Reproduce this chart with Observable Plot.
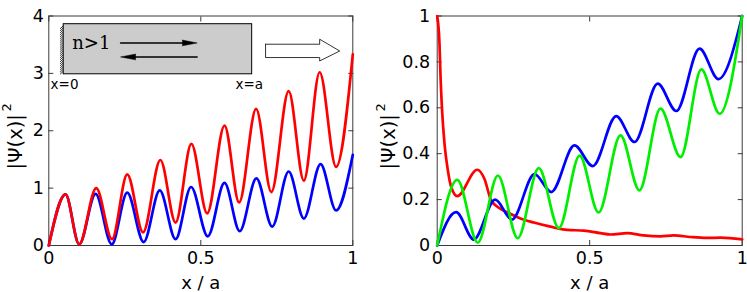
<!DOCTYPE html>
<html><head><meta charset="utf-8">
<script src="https://cdn.jsdelivr.net/npm/d3@7"></script>
<script src="https://cdn.jsdelivr.net/npm/@observablehq/plot@0.6"></script>
<style>
body{margin:0;background:#fff;}
#wrap{position:relative;width:747px;height:292px;overflow:hidden;background:#fff;}
#left,#right{position:absolute;top:0;}
#left{left:0;} #right{left:374px;}
#wrap [aria-label$="tick label"], #wrap [aria-label$="tick label"] text{font-size:17.5px;font-family:"DejaVu Sans";fill:#000;}
</style></head><body>
<div id="wrap"><div id="left"></div><div id="right"></div></div>
<script>
// ---------- data ----------
const xTicks = [0, 0.5, 1];
const leftYTicks = [0, 1, 2, 3, 4];
const rightYTicks = [0, 0.2, 0.4, 0.6, 0.8, 1];

const leftRedX = [0, 0.055, 0.10, 0.156, 0.208, 0.258, 0.31, 0.367, 0.417, 0.469, 0.521, 0.578, 0.626, 0.682, 0.732, 0.789, 0.839, 0.891, 0.945, 1.0];
const leftRedY = [0, 0.89, 0.02, 1.0, 0.11, 1.24, 0.23, 1.49, 0.40, 1.77, 0.56, 2.09, 0.75, 2.38, 0.93, 2.69, 1.13, 3.02, 1.37, 3.33];

const leftBlueX = [0, 0.055, 0.10, 0.154, 0.207, 0.258, 0.312, 0.365, 0.417, 0.468, 0.523, 0.578, 0.628, 0.683, 0.735, 0.789, 0.839, 0.894, 0.945, 1.0];
const leftBlueY = [0, 0.89, 0.02, 0.90, 0.02, 0.92, 0.06, 0.96, 0.11, 1.02, 0.16, 1.09, 0.25, 1.17, 0.33, 1.29, 0.47, 1.42, 0.61, 1.58];

const rightRedX = [0, 0.0075, 0.011, 0.016, 0.024, 0.035, 0.046, 0.066, 0.131, 0.155, 0.177, 0.2075, 0.24, 0.273, 0.317, 0.371, 0.426, 0.481, 0.535, 0.568, 0.623, 0.677, 0.732, 0.776, 0.83, 0.885, 0.929, 1.0];
const rightRedY = [1.0, 0.88, 0.734, 0.589, 0.443, 0.327, 0.255, 0.215, 0.33, 0.29, 0.196, 0.16, 0.138, 0.118, 0.1, 0.082, 0.068, 0.065, 0.054, 0.048, 0.054, 0.044, 0.04, 0.044, 0.037, 0.033, 0.034, 0.027];

const rightBlueX = [0, 0.062, 0.12, 0.19, 0.245, 0.319, 0.374, 0.45, 0.51, 0.587, 0.647, 0.723, 0.784, 0.86, 0.922, 1.0];
const rightBlueY = [0, 0.145, 0.026, 0.20, 0.113, 0.311, 0.233, 0.436, 0.346, 0.564, 0.451, 0.705, 0.586, 0.858, 0.725, 1.0];

const rightGreenX = [0, 0.066, 0.133, 0.199, 0.264, 0.333, 0.399, 0.467, 0.529, 0.601, 0.663, 0.732, 0.798, 0.866, 0.926, 1.0];
const rightGreenY = [0, 0.286, 0.012, 0.305, 0.032, 0.337, 0.076, 0.392, 0.144, 0.48, 0.24, 0.596, 0.385, 0.767, 0.574, 1.0];

// inset sketch (in data units of the left panel)
const insetBox = [{x1: 0.049, x2: 0.669, y1: 2.984, y2: 3.857}];
const wallX = [0.037, 0.049];
const arrowRight = {x: [0.236, 0.445], y: [3.53, 3.53], headX: [0.439, 0.488, 0.439], headY: [3.58, 3.53, 3.48]};
const arrowLeft = {x: [0.28, 0.488], y: [3.286, 3.286], headX: [0.286, 0.236, 0.286], headY: [3.336, 3.286, 3.236]};
const bigArrowX = [0.713, 0.891, 0.891, 0.957, 0.891, 0.891, 0.713, 0.713];
const bigArrowY = [3.508, 3.508, 3.595, 3.39, 3.216, 3.276, 3.276, 3.508];
const insetLabels = [{x: 0.006, y: 2.735, t: "x=0"}, {x: 0.614, y: 2.735, t: "x=a"}];
const mediumLabel = {x: 0.077, y: 3.43, t: "n>1"};

// ---------- drawing ----------
const FRAME = "#3a3a3a";
const FONT = "DejaVu Sans";
const FS = 17.5;
const W = 2.7;
const yLabelMain = "|Ψ(x)|";
const yLabelSup = "2";
const xLabel = "x / a";
const fmt = d => String(d);

function axes(yTicks, yPad, labelDx) {
  return [
    Plot.frame({stroke: FRAME, strokeWidth: 1}),
    Plot.axisX({anchor: "bottom", ticks: xTicks, tickSize: 0, tickPadding: 6, tickFormat: fmt, label: null}),
    Plot.axisX({anchor: "bottom", ticks: xTicks, tickSize: 5, dy: -5, tickFormat: () => "", label: null, stroke: FRAME}),
    Plot.axisX({anchor: "top", ticks: xTicks, tickSize: 5, dy: 5, tickFormat: () => "", label: null, stroke: FRAME}),
    Plot.axisY({anchor: "left", ticks: yTicks, tickSize: 0, tickPadding: yPad, tickFormat: fmt, label: null}),
    Plot.axisY({anchor: "left", ticks: yTicks, tickSize: 5, dx: 5, tickFormat: () => "", label: null, stroke: FRAME}),
    Plot.axisY({anchor: "right", ticks: yTicks, tickSize: 5, dx: -5, tickFormat: () => "", label: null, stroke: FRAME}),
    Plot.text([xLabel], {frameAnchor: "bottom", textAnchor: "middle", dy: 38, lineAnchor: "middle", fontSize: 18}),
    Plot.text([yLabelMain], {frameAnchor: "left", textAnchor: "middle", lineAnchor: "middle", rotate: -90, dx: labelDx, dy: 11, fontSize: 19.5}),
    Plot.text([yLabelSup], {frameAnchor: "left", textAnchor: "middle", lineAnchor: "middle", rotate: -90, dx: labelDx - 8.5, dy: -23.5, fontSize: 13})
  ];
}

function curve(xs, ys, color) {
  return Plot.line(xs, {x: xs, y: ys, stroke: color, strokeWidth: W, curve: "monotone-x"});
}

const hatch = d3.range(insetBox[0].y1, insetBox[0].y2 - 0.05, 0.036).map(y => ({y}));

const left = Plot.plot({
  width: 374, height: 292,
  marginLeft: 48.3, marginRight: 21.7, marginTop: 15.5, marginBottom: 47,
  x: {domain: [0, 1]}, y: {domain: [0, 4]},
  style: {fontFamily: FONT, fontSize: FS + "px", background: "white", overflow: "visible"},
  marks: [
    ...axes(leftYTicks, 5, -33),
    // inset sketch
    Plot.link(hatch, {x1: wallX[0], x2: wallX[1], y1: d => d.y, y2: d => d.y + 0.06, stroke: "black", strokeWidth: 0.8}),
    Plot.rect(insetBox, {x1: "x1", x2: "x2", y1: "y1", y2: "y2", fill: "#cccccc", stroke: "black", strokeWidth: 1}),
    Plot.text([mediumLabel], {x: "x", y: "y", text: "t", textAnchor: "start", lineAnchor: "bottom", fontFamily: "DejaVu Serif", fontSize: 18}),
    Plot.line(arrowRight.x, {x: arrowRight.x, y: arrowRight.y, stroke: "black", strokeWidth: 1.5}),
    Plot.line(arrowRight.headX, {x: arrowRight.headX, y: arrowRight.headY, fill: "black", stroke: "black", strokeWidth: 0.5}),
    Plot.line(arrowLeft.x, {x: arrowLeft.x, y: arrowLeft.y, stroke: "black", strokeWidth: 1.5}),
    Plot.line(arrowLeft.headX, {x: arrowLeft.headX, y: arrowLeft.headY, fill: "black", stroke: "black", strokeWidth: 0.5}),
    Plot.line(bigArrowX, {x: bigArrowX, y: bigArrowY, fill: "white", stroke: "black", strokeWidth: 0.8}),
    Plot.text(insetLabels, {x: "x", y: "y", text: "t", textAnchor: "start", lineAnchor: "bottom", fontSize: 13.5}),
    // curves
    curve(leftBlueX, leftBlueY, "#0000ff"),
    curve(leftRedX, leftRedY, "#ff0000")
  ]
});
document.getElementById("left").append(left);

const right = Plot.plot({
  width: 373, height: 292,
  marginLeft: 62.7, marginRight: 5.3, marginTop: 15.5, marginBottom: 47,
  x: {domain: [0, 1]}, y: {domain: [0, 1]},
  style: {fontFamily: FONT, fontSize: FS + "px", background: "white", overflow: "visible"},
  marks: [
    ...axes(rightYTicks, 7, -48),
    curve(rightRedX, rightRedY, "#ff0000"),
    curve(rightBlueX, rightBlueY, "#0000ff"),
    curve(rightGreenX, rightGreenY, "#00ee00")
  ]
});
document.getElementById("right").append(right);
</script>
</body></html>
